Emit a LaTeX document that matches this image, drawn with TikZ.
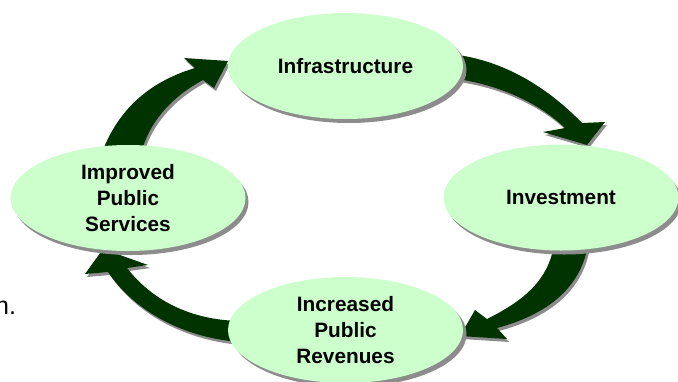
\documentclass[tikz,border=0pt]{standalone}
\usepackage{fontspec}
\setmainfont{Liberation Sans}
\usetikzlibrary{shapes.geometric}
\definecolor{ellfill}{HTML}{CCFFCC}
\definecolor{arrfill}{HTML}{003300}
\definecolor{shadowc}{HTML}{8C8C8C}
\tikzset{
  cyclenode/.style={ellipse, fill=ellfill, minimum width=235pt, minimum height=106pt,
    inner sep=0pt, align=center, font=\bfseries\fontsize{20.8}{25.8}\selectfont},
  ellshadow/.style={fill=shadowc},
  arrbody/.style={fill=arrfill},
  arrshadow/.style={fill=shadowc}
}
\newcommand\arrUL{(100,158) .. controls (118,105) and (155,80) .. (195,68)
  -- (184,58) -- (228,61) -- (214,88) -- (203,80)
  .. controls (175,95) and (148,120) .. (140,158) -- cycle}
\newcommand\arrUR{(450,54) .. controls (510,60) and (555,95) .. (582,123)
  -- (605,122) -- (587,145) -- (543,132) -- (565,128)
  .. controls (540,104) and (500,84) .. (450,78) -- cycle}
\newcommand\arrLR{(588,245) .. controls (580,290) and (545,315) .. (497,328)
  -- (507,339) -- (460,336) -- (475,310) -- (487,319)
  .. controls (525,300) and (548,280) .. (554,245) -- cycle}
\newcommand\arrLL{(240,321) .. controls (190,320) and (152,300) .. (127,268)
  -- (148,265) -- (103,249) -- (85,274) -- (108,272)
  .. controls (135,312) and (185,338) .. (240,342) -- cycle}
\begin{document}
\begin{tikzpicture}[x=1pt,y=-1pt]
\useasboundingbox (0,0) rectangle (678,381);
% fragment of slide text (cut off at the left edge, as in the reference)
\node[anchor=base west, inner sep=0pt, font=\fontsize{25}{30}\selectfont] (nfrag) at (-5,314) {n.};
% arrow shadows
\fill[arrshadow, shift={(2,3)}] \arrUL;
\fill[arrshadow, shift={(2,3)}] \arrUR;
\fill[arrshadow, shift={(2,3)}] \arrLR;
\fill[arrshadow, shift={(2,3)}] \arrLL;
% arrows
\fill[arrbody] \arrUL;
\fill[arrbody] \arrUR;
\fill[arrbody] \arrLR;
\fill[arrbody] \arrLL;
% ellipse shadows
\fill[ellshadow] (349,70) ellipse [x radius=117.5, y radius=53];
\fill[ellshadow] (564,201.5) ellipse [x radius=117.5, y radius=53];
\fill[ellshadow] (131,202) ellipse [x radius=117.5, y radius=53];
\fill[ellshadow] (349,334) ellipse [x radius=117.5, y radius=53];
% ellipses
\node[cyclenode] (infra) at (345.5,66) {Infrastructure};
\node[cyclenode] (invest) at (561,197.5) {Investment};
\node[cyclenode] (improved) at (128,198) {Improved\\Public\\Services};
\node[cyclenode] (revenues) at (345.5,330) {Increased\\Public\\Revenues};
\end{tikzpicture}
\end{document}
